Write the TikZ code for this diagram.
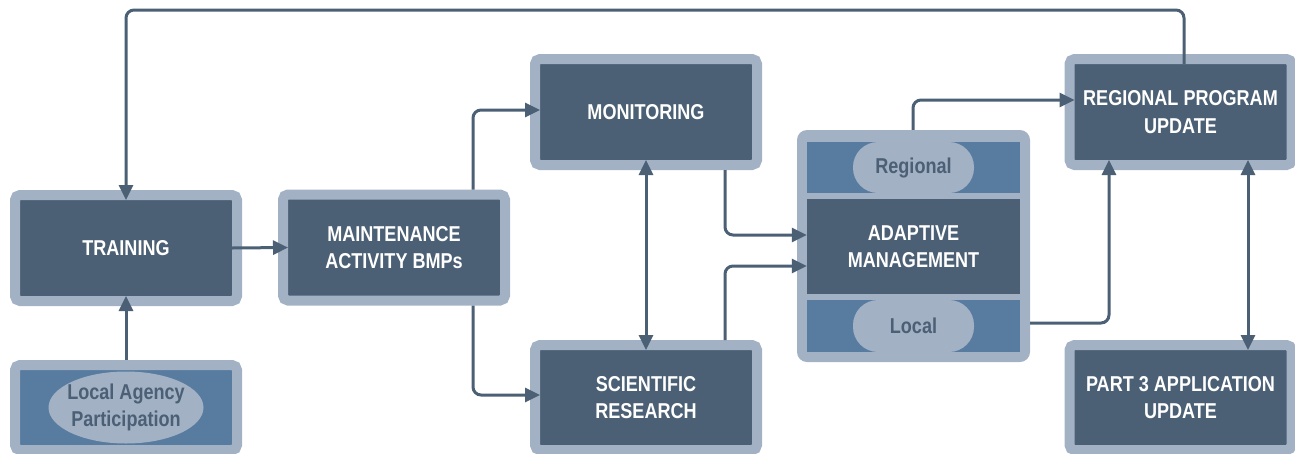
\documentclass[tikz,border=0pt]{standalone}
\usepackage{fontspec}
\newfontfamily\diagfont{Liberation Sans}[FakeStretch=0.84]
\usetikzlibrary{arrows.meta,shapes.geometric}
\definecolor{slate}{HTML}{4B6075}
\definecolor{paleblue}{HTML}{A3B1C5}
\definecolor{midblue}{HTML}{587BA0}
\tikzset{
    >={Triangle[length=15pt,width=14pt]},
    lbl/.style={font=\diagfont\bfseries\fontsize{21.5}{27.5}\selectfont, align=center},
    box/.style={lbl, draw=paleblue, line width=10pt, rounded corners=5pt, fill=slate, text=white,
        outer sep=-5pt, inner sep=0pt, minimum width=222pt, minimum height=106pt},
    core/.style={lbl, fill=slate, text=white, inner sep=0pt, minimum width=213pt, minimum height=95pt},
    band/.style={fill=midblue, inner sep=0pt, minimum width=213pt, minimum height=51pt},
    pill/.style={lbl, fill=paleblue, text=slate, rounded corners=25pt, inner sep=0pt,
        minimum width=121pt, minimum height=51pt},
    conn/.style={draw=slate, line width=3pt, rounded corners=8pt, ->},
    fromrim/.style={shorten <=10pt}
}
\begin{document}
\begin{tikzpicture}[x=1pt,y=-1pt]
    \useasboundingbox (0,0) rectangle (1295,453);
    \node[box] (train) at (126,248) {TRAINING};
    \node[box, fill=midblue, minimum height=85pt] (agency) at (126,407.5) {};
    \node[lbl, ellipse, fill=paleblue, text=slate, inner xsep=-4pt, inner ysep=0pt,
        minimum width=155pt, minimum height=72pt] (agencyoval) at (agency) {Local Agency\\Participation};
    \node[box] (maint) at (394,247.5) {MAINTENANCE\\ACTIVITY BMPs};
    \node[box] (monit) at (646,112) {MONITORING};
    \node[box, minimum height=105pt] (sci) at (646,397.5) {SCIENTIFIC\\RESEARCH};
    \node[fill=paleblue, rounded corners=10pt, minimum width=233pt, minimum height=232pt] (adapt) at (913.5,246) {};
    \node[band] (reg) at (913.5,167.5) {};
    \node[pill] (regpill) at (reg) {Regional};
    \node[core] (adcore) at (913.5,246.5) {ADAPTIVE\\MANAGEMENT};
    \node[band, minimum height=52pt] (loc) at (913.5,326) {};
    \node[pill, minimum height=52pt] (locpill) at (loc) {Local};
    \node[box] (rpu) at (1180.5,112) {REGIONAL PROGRAM\\UPDATE};
    \node[box, minimum height=105pt] (part) at (1180.5,397.5) {PART 3 APPLICATION\\UPDATE};
    \coordinate (looptop) at (0,10);

    \draw[conn] ([xshift=3.5pt]rpu.north) |- (looptop -| train.north) -- (train.north);
    \draw[conn, fromrim] (agency.north) -- (train.south);
    \draw[conn] (train.east) -- (maint.west);
    \draw[conn, fromrim] ([xshift=79pt]maint.north) |- ([yshift=2pt]monit.west);
    \draw[conn, fromrim] ([xshift=79pt]maint.south) |- ([yshift=2.5pt]sci.west);
    \draw[conn, <->] (monit.south) -- (sci.north);
    \draw[conn, fromrim] ([xshift=79pt]monit.south) |- ([yshift=11.5pt]adcore.west);
    \draw[conn, fromrim] ([xshift=79pt]sci.north) |- ([yshift=-19.5pt]adcore.west);
    \draw[conn] ([xshift=-0.5pt]adapt.north) |- ([yshift=12pt]rpu.west);
    \draw[conn] ([yshift=3pt]loc.center -| adapt.east) -| ([xshift=-71.5pt]rpu.south);
    \draw[conn, <->] ([xshift=67.5pt]rpu.south) -- ([xshift=67.5pt]part.north);
\end{tikzpicture}
\end{document}
